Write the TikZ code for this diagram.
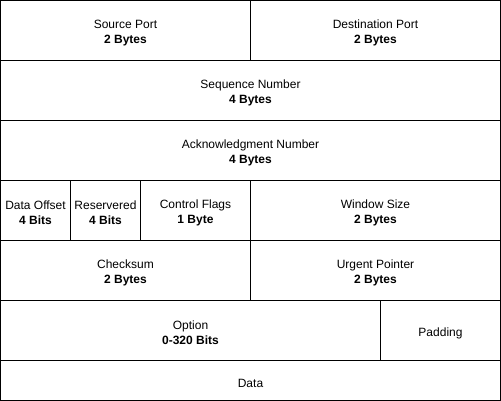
\documentclass[tikz,border=0pt]{standalone}
\usepackage{fontspec}
\setmainfont{Liberation Sans}
\usetikzlibrary{positioning}

\tikzset{
  field/.style={draw,line width=1pt,inner sep=0pt,outer sep=0pt,align=center,
    font=\fontsize{12}{15}\selectfont}
}
\newcommand{\fieldstrut}{\rule{0pt}{14pt}}

\begin{document}
\begin{tikzpicture}[x=1pt,y=-1pt]
  \useasboundingbox (0,0) rectangle (501,401);
  % Header fields: name / left / top / right / bottom / text
  \foreach \nm/\xa/\ya/\xb/\yb/\txt in {
      srcport/0.5/0.5/250.5/60.5/{Source Port\\\textbf{2 Bytes}},
      dstport/250.5/0.5/500.5/60.5/{Destination Port\\\textbf{2 Bytes}},
      seqnum/0.5/60.5/500.5/120.5/{Sequence Number\\\textbf{4 Bytes}},
      acknum/0.5/120.5/500.5/180.5/{Acknowledgment Number\\\textbf{4 Bytes}},
      offset/0.5/180.5/70.5/240.5/{Data Offset\\\textbf{4 Bits}},
      reserved/70.5/180.5/140.5/240.5/{Reservered\\\textbf{4 Bits}},
      flags/140.5/180.5/250.5/240.5/{Control Flags\\\textbf{1 Byte}},
      window/250.5/180.5/500.5/240.5/{Window Size\\\textbf{2 Bytes}},
      checksum/0.5/240.5/250.5/300.5/{Checksum\\\textbf{2 Bytes}},
      urgent/250.5/240.5/500.5/300.5/{Urgent Pointer\\\textbf{2 Bytes}},
      option/0.5/300.5/380.5/360.5/{Option\\\textbf{0-320 Bits}},
      padding/380.5/300.5/500.5/360.5/{Padding},
      data/0.5/360.5/500.5/400.5/{Data}}{
    \node[field,minimum width=\xb-\xa,minimum height=\yb-\ya]
      (\nm) at ({(\xa+\xb)/2},{(\ya+\yb)/2}) {\fieldstrut\txt};
  }
\end{tikzpicture}
\end{document}
